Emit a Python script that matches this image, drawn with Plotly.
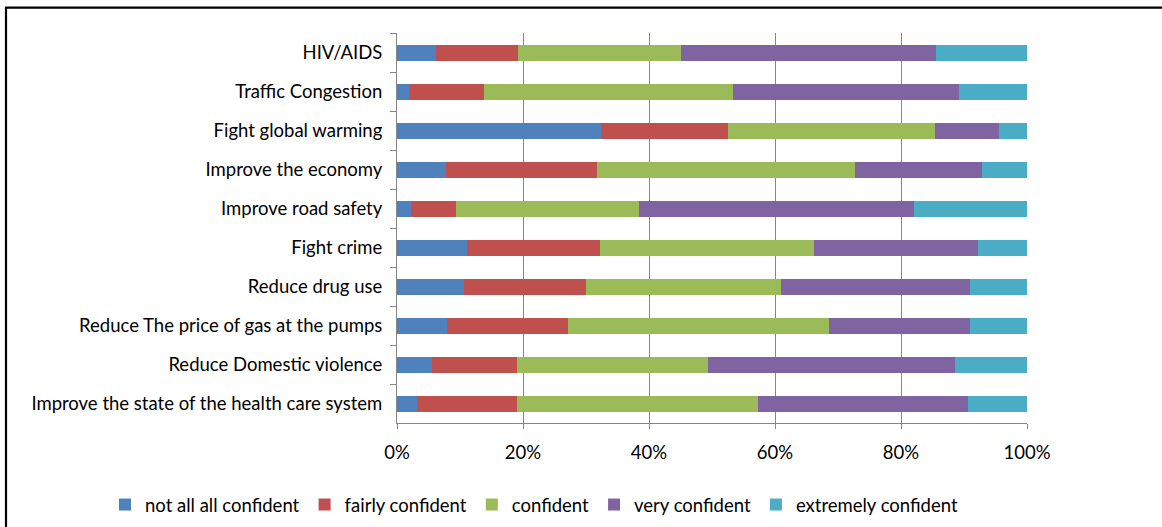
import plotly.graph_objects as go

categories = [
    "HIV/AIDS",
    "Traffic Congestion",
    "Fight global warming",
    "Improve the economy",
    "Improve road safety",
    "Fight crime",
    "Reduce drug use",
    "Reduce The price of gas at the pumps",
    "Reduce Domestic violence",
    "Improve the state of the health care system",
]

not_confident = [6.2, 1.9, 32.4, 7.8, 2.3, 11.1, 10.6, 8.0, 5.6, 3.2]
fairly_confident = [13.0, 11.9, 20.1, 24.0, 7.1, 21.1, 19.4, 19.2, 13.5, 15.9]
confident = [25.9, 39.5, 32.9, 40.9, 29.0, 34.0, 30.9, 41.3, 30.3, 38.2]
very_confident = [40.4, 35.9, 10.1, 20.2, 43.6, 26.0, 30.0, 22.4, 39.1, 33.3]
extremely_confident = [14.5, 10.8, 4.5, 7.1, 18.0, 7.8, 9.1, 9.1, 11.5, 9.4]

series = [
    ("not all all confident", not_confident, "#4F81BD"),
    ("fairly confident", fairly_confident, "#C0504D"),
    ("confident", confident, "#9BBB59"),
    ("very confident", very_confident, "#8064A2"),
    ("extremely confident", extremely_confident, "#4BACC6"),
]

fig = go.Figure()
for name, vals, col in series:
    fig.add_trace(go.Bar(
        y=categories, x=vals, name=name, orientation="h",
        marker=dict(color=col, line=dict(width=0)),
    ))

FONT = "Lato, 'Open Sans', sans-serif"
FS = 18.5
L, R, T, B = 397, 135, 33, 104
W, H = 1162, 527
pw = W - L - R
ph = H - T - B
AX = "#868686"

fig.update_layout(
    barmode="stack",
    barnorm="percent",
    bargap=0.59,
    width=W, height=H,
    margin=dict(l=L, r=R, t=T, b=B, autoexpand=False),
    paper_bgcolor="white",
    plot_bgcolor="white",
    font=dict(family=FONT, size=FS, color="#000000"),
    xaxis=dict(
        range=[0, 100],
        tickvals=[0, 20, 40, 60, 80, 100],
        ticktext=["0%", "20%", "40%", "60%", "80%", "100%"],
        showgrid=True, gridcolor=AX, gridwidth=1,
        zeroline=False, showline=True, linecolor=AX, linewidth=1,
        ticks="outside", ticklen=5, tickcolor=AX,
        ticklabelstandoff=8,
        automargin=False,
        fixedrange=True,
    ),
    yaxis=dict(
        categoryorder="array", categoryarray=categories,
        autorange="reversed",
        showline=True, linecolor=AX, linewidth=1,
        ticks="outside", tickson="boundaries", ticklen=6, tickcolor=AX,
        ticklabelstandoff=10,
        showgrid=False,
        automargin=False,
        fixedrange=True,
    ),
    legend=dict(
        orientation="h",
        x=(105 - L) / pw, xanchor="left",
        y=(ph + T - 505) / ph, yanchor="middle",
        font=dict(size=FS),
        traceorder="normal",
        itemwidth=30,
        bgcolor="rgba(0,0,0,0)",
    ),
    showlegend=True,
)

# outer chart border (right and bottom edges lie outside the picture)
fig.add_shape(
    type="rect", xref="paper", yref="paper",
    x0=(6 - L) / pw, x1=(1175 - L) / pw,
    y0=(T + ph - 545) / ph, y1=(T + ph - 7.7) / ph,
    line=dict(color="black", width=2.2), fillcolor="rgba(0,0,0,0)",
    layer="below",
)

fig.write_html("out.html")
